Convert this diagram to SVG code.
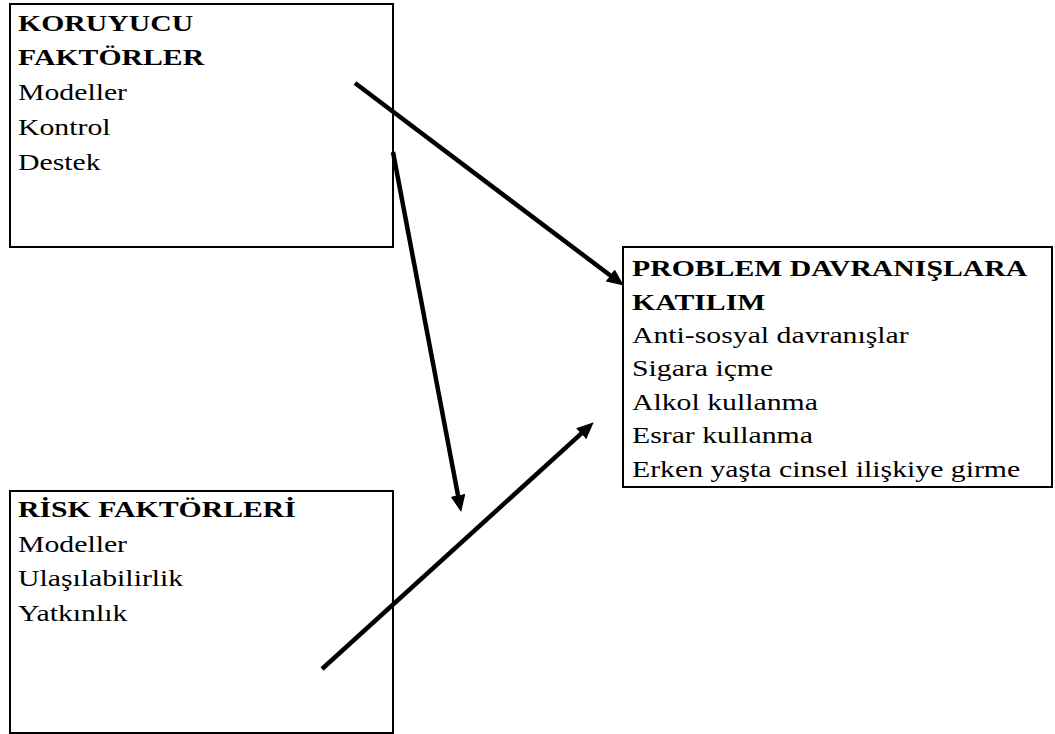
<svg xmlns="http://www.w3.org/2000/svg" width="1055" height="734" viewBox="0 0 1055 734">
<defs>
<style>
.box{fill:#fff;stroke:#000;stroke-width:2}
text{font-family:"Liberation Serif","Times New Roman",serif;font-size:24px;fill:#000}
.b{font-weight:bold}
.conn{stroke:#000;stroke-width:4.5;fill:none;marker-end:url(#ah)}
</style>
<marker id="ah" markerUnits="userSpaceOnUse" markerWidth="18" markerHeight="16" refX="6" refY="7.5" orient="auto">
<path d="M0,0 L17,7.5 L0,15 z" fill="#000"/>
</marker>
</defs>
<rect width="1055" height="734" fill="#fff"/>
<g id="koruyucu">
<rect class="box" x="10" y="4" width="383" height="243"/>
<g transform="translate(18,0) scale(1.24,1)">
<text x="0" y="31" class="b">KORUYUCU</text>
<text x="0" y="65.5" class="b">FAKTÖRLER</text>
<text x="0" y="100.5">Modeller</text>
<text x="0" y="135">Kontrol</text>
<text x="0" y="170">Destek</text>
</g>
</g>
<g id="risk">
<rect class="box" x="10" y="491" width="383" height="242"/>
<g transform="translate(18,0) scale(1.24,1)">
<text x="0" y="517" class="b">RİSK FAKTÖRLERİ</text>
<text x="0" y="552">Modeller</text>
<text x="0" y="586.5">Ulaşılabilirlik</text>
<text x="0" y="621">Yatkınlık</text>
</g>
</g>
<g id="problem">
<rect class="box" x="623" y="247" width="429" height="240"/>
<g transform="translate(632,0) scale(1.24,1)">
<text x="0" y="276.5" class="b">PROBLEM DAVRANIŞLARA</text>
<text x="0" y="310" class="b">KATILIM</text>
<text x="0" y="343.5">Anti-sosyal davranışlar</text>
<text x="0" y="376.5">Sigara içme</text>
<text x="0" y="410">Alkol kullanma</text>
<text x="0" y="443.5">Esrar kullanma</text>
<text x="0" y="477">Erken yaşta cinsel ilişkiye girme</text>
</g>
</g>
<g id="connectors">
<line class="conn" x1="355" y1="83" x2="615" y2="279"/>
<line class="conn" x1="393" y1="152" x2="459.1" y2="501.2"/>
<line class="conn" x1="322" y1="669" x2="585.6" y2="429.7"/>
</g>
</svg>
